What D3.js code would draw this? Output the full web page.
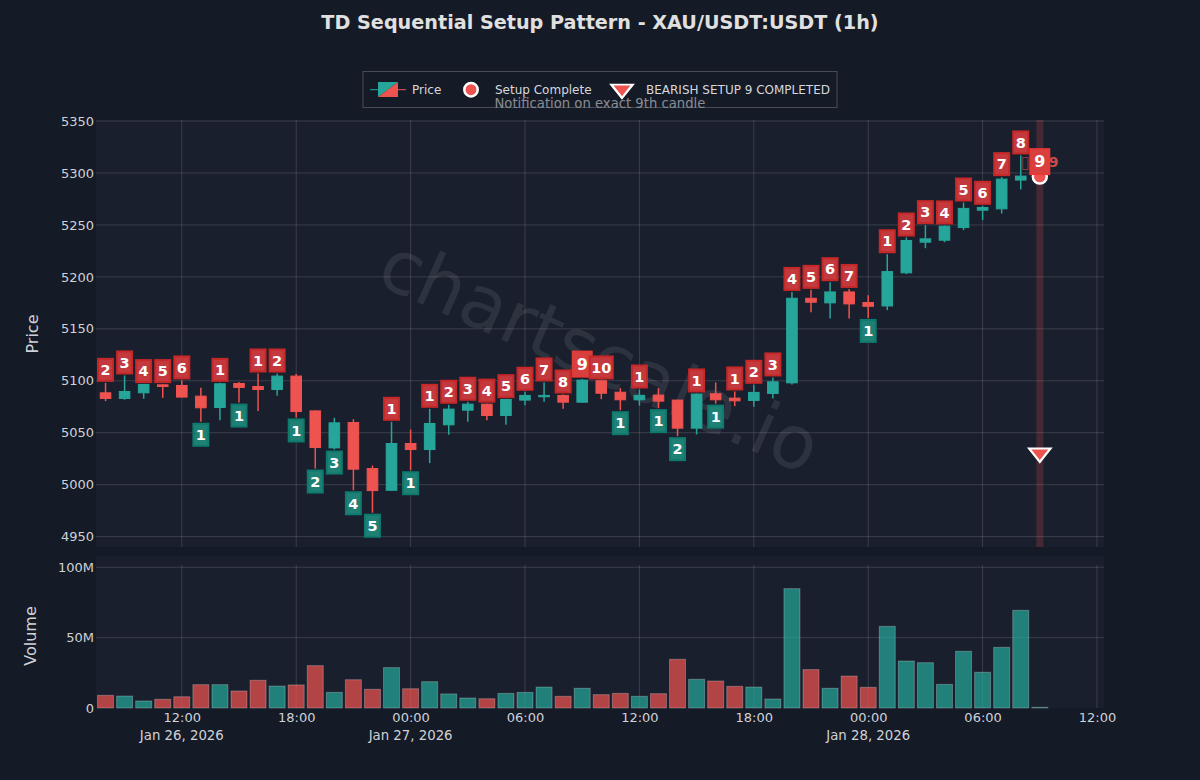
<!DOCTYPE html>
<html>
<head>
<meta charset="utf-8">
<title>TD Sequential Setup Pattern</title>
<script src="https://cdn.jsdelivr.net/npm/d3@7/dist/d3.min.js"></script>
<style>
  html, body { margin: 0; padding: 0; background: #151a27; }
  svg { display: block; font-family: "DejaVu Sans", sans-serif; }
</style>
</head>
<body>
<div id="chart"></div>
<script>
var opens = [5088.4, 5083, 5088.4, 5096.1, 5095.5, 5085.2, 5074.3, 5097.4, 5094.5, 5091.6,
  5104.5, 5071, 5035.4, 5059.8, 5015.5, 4994.6, 5039.6, 5033.8, 5057.6, 5071.7,
  5077.5, 5066.6, 5081.4, 5084.6, 5085.9, 5079.4, 5100, 5089, 5081.7, 5086.2,
  5081.4, 5054.4, 5087.5, 5083.3, 5081.1, 5087.8, 5098, 5179.4, 5175, 5185.5,
  5175.3, 5172, 5203.9, 5233.4, 5235.3, 5247.5, 5264.2, 5265.5, 5293.2, 5295.8];
var highs = [5098, 5105.1, 5096.8, 5096.8, 5100.3, 5093.3, 5098, 5098.7, 5107, 5107,
  5106.4, 5071.5, 5064.3, 5063, 5018.4, 5060.5, 5053, 5073, 5076.9, 5079.8,
  5078, 5082.3, 5089.4, 5098.4, 5086.8, 5101.6, 5100.3, 5093, 5091.6, 5093,
  5081.6, 5087.8, 5098.4, 5089.7, 5096.1, 5103.2, 5185.5, 5187.5, 5194.9, 5188.4,
  5182.3, 5221.8, 5237.9, 5249.8, 5249.5, 5271.6, 5268.4, 5296, 5316.9, 5296.5];
var lows = [5080.4, 5081.7, 5082.7, 5083.6, 5084, 5060.5, 5062, 5079, 5071, 5085.5,
  5064.7, 5015.5, 5033.8, 4994.6, 4973, 4994.4, 5013.9, 5020.7, 5048, 5060.5,
  5062, 5057.6, 5076.5, 5079.8, 5073, 5079.2, 5082.3, 5071.7, 5076, 5073.7,
  5046.7, 5048.3, 5078, 5075.6, 5075, 5083, 5096.5, 5166, 5160, 5160,
  5160.5, 5168, 5202.6, 5227.6, 5233.4, 5245, 5254.6, 5261, 5284.2, 5295.5];
var closes = [5083, 5089.7, 5096.5, 5094.5, 5084.3, 5074, 5097.1, 5093.6, 5091.6, 5104.5,
  5070.4, 5035.8, 5059.5, 5014.9, 4994.3, 5039.6, 5033.8, 5058.9, 5072.7, 5077.5,
  5066.6, 5082, 5085.9, 5085.9, 5079.4, 5100.6, 5088, 5081.7, 5086, 5080.4,
  5054.4, 5087.2, 5081.7, 5080.7, 5088.8, 5099, 5179.4, 5175.6, 5185.5, 5174,
  5171.7, 5205.1, 5235, 5236.6, 5248.8, 5265.9, 5266.8, 5294.1, 5297, 5296.2];
var volumes = [9, 8.5, 5, 6.2, 8, 16.6, 16.6, 12.1, 19.7, 15.6,
  16.4, 30.1, 11.1, 20.1, 13.3, 28.7, 13.7, 18.7, 10, 7.1,
  6.6, 10.4, 11.1, 14.9, 8.3, 14, 9.5, 10.4, 8.3, 10.2,
  34.6, 20.4, 19.2, 15.4, 14.9, 6.4, 84.8, 27.3, 14, 22.7,
  14.7, 58, 33.4, 32.2, 16.8, 40.3, 25.4, 43.1, 69.4, 0.5];

// Setup count printed on each candle, and whether it sits above (a) or below (b) it.
var setupCounts = [2, 3, 4, 5, 6, 1, 1, 1, 1, 2, 1, 2, 3, 4, 5, 1, 1, 1, 2, 3, 4, 5, 6, 7, 8,
  9, 10, 1, 1, 1, 2, 1, 1, 1, 2, 3, 4, 5, 6, 7, 1, 1, 2, 3, 4, 5, 6, 7, 8, 9];
var setupSides = [
  'a', 'a', 'a', 'a', 'a', 'b', 'a', 'b', 'a', 'a',
  'b', 'b', 'b', 'b', 'b', 'a', 'b', 'a', 'a', 'a',
  'a', 'a', 'a', 'a', 'a', 'a', 'a', 'b', 'a', 'b',
  'b', 'a', 'b', 'a', 'a', 'a', 'a', 'a', 'a', 'a',
  'b', 'a', 'a', 'a', 'a', 'a', 'a', 'a', 'a', 'a'];

var priceTicks = [4950, 5000, 5050, 5100, 5150, 5200, 5250, 5300, 5350];
var volumeTicks = [0, 50, 100];
var dateTicks = [new Date(Date.UTC(2026, 0, 26, 12)), new Date(Date.UTC(2026, 0, 27)), new Date(Date.UTC(2026, 0, 28))];
var signalPrice = 5030.5;
var signalCandle = 49;

var width = 1200, height = 780;
var green = '#26a69a', red = '#ef5350';
var paper = '#151a27', plot = '#1a1f2d';
var left = 96, right = 1104;
var priceTop = 120, priceBottom = 547;
var volumeTop = 556, volumeBottom = 708, gridTop = 565;

var times = d3.utcHour.range(new Date(Date.UTC(2026, 0, 26, 8)), new Date(Date.UTC(2026, 0, 28, 10)));

var x = d3.scaleUtc()
  .domain([new Date(Date.UTC(2026, 0, 26, 7, 30)), new Date(Date.UTC(2026, 0, 28, 12, 22))])
  .range([left, right]);
var y = d3.scaleLinear().domain([4940, 5351]).range([priceBottom, priceTop]);
var yVol = d3.scaleLinear().domain([0, 108]).range([volumeBottom, volumeTop]);

var candles = times.map(function (t, i) {
  return {
    i: i, time: t, open: opens[i], high: highs[i], low: lows[i], close: closes[i],
    volume: volumes[i], count: setupCounts[i], side: setupSides[i],
    up: closes[i] >= opens[i]
  };
});

var svg = d3.select('#chart').append('svg').attr('width', width).attr('height', height);

svg.append('rect').attr('width', width).attr('height', height).attr('fill', paper);
svg.append('rect').attr('x', left).attr('y', priceTop).attr('width', right - left)
  .attr('height', priceBottom - priceTop).attr('fill', plot);
svg.append('rect').attr('x', left).attr('y', volumeTop).attr('width', right - left)
  .attr('height', volumeBottom - volumeTop).attr('fill', plot);

// Grid
var gridColor = 'rgba(255,255,255,0.14)';
var xGridTicks = d3.utcHour.every(6).range(x.domain()[0], x.domain()[1]);

svg.append('g').selectAll('line').data(priceTicks).enter().append('line')
  .attr('x1', left).attr('x2', right)
  .attr('y1', function (d) { return y(d); }).attr('y2', function (d) { return y(d); })
  .attr('stroke', gridColor);
svg.append('g').selectAll('line').data(volumeTicks.slice(1)).enter().append('line')
  .attr('x1', left).attr('x2', right)
  .attr('y1', function (d) { return yVol(d); }).attr('y2', function (d) { return yVol(d); })
  .attr('stroke', gridColor);
svg.append('g').selectAll('line').data(xGridTicks).enter().append('line')
  .attr('x1', function (d) { return x(d); }).attr('x2', function (d) { return x(d); })
  .attr('y1', priceTop).attr('y2', priceBottom).attr('stroke', gridColor);
svg.append('g').selectAll('line').data(xGridTicks).enter().append('line')
  .attr('x1', function (d) { return x(d); }).attr('x2', function (d) { return x(d); })
  .attr('y1', gridTop).attr('y2', volumeBottom).attr('stroke', gridColor);

// Watermark
svg.append('text')
  .attr('transform', 'translate(598,360) rotate(24)')
  .attr('text-anchor', 'middle').attr('dominant-baseline', 'middle')
  .attr('font-size', 74).attr('fill', 'rgba(255,255,255,0.085)')
  .text('chartscale.io');

// Highlight on the completed setup candle
svg.append('rect')
  .attr('x', x(times[signalCandle]) - 3.5).attr('y', priceTop)
  .attr('width', 7).attr('height', priceBottom - priceTop)
  .attr('fill', 'rgba(239,83,80,0.2)');

// Axes
function styleAxis(g) {
  g.select('.domain').remove();
  g.selectAll('line').remove();
  g.selectAll('text').attr('fill', '#cfd2d8').attr('font-size', 13)
    .attr('font-family', '"DejaVu Sans", sans-serif');
}
svg.append('g').attr('transform', 'translate(' + (left + 1) + ',0)')
  .call(d3.axisLeft(y).tickValues(priceTicks).tickFormat(d3.format('d')).tickPadding(3).tickSize(0))
  .call(styleAxis);
svg.append('g').attr('transform', 'translate(' + (left + 1) + ',0)')
  .call(d3.axisLeft(yVol).tickValues(volumeTicks)
    .tickFormat(function (d) { return d === 0 ? '0' : d + 'M'; }).tickPadding(3).tickSize(0))
  .call(styleAxis);
svg.append('g').attr('transform', 'translate(0,' + volumeBottom + ')')
  .call(d3.axisBottom(x).tickValues(xGridTicks).tickFormat(d3.utcFormat('%H:%M')).tickPadding(5).tickSize(0))
  .call(styleAxis);

svg.append('g').selectAll('text').data(dateTicks).enter().append('text')
  .attr('x', function (d) { return x(d); })
  .attr('y', 740).attr('text-anchor', 'middle')
  .attr('font-size', 13.3).attr('fill', '#cfd2d8')
  .text(d3.utcFormat('%b %-d, %Y'));

svg.append('text').attr('transform', 'translate(38,334) rotate(-90)')
  .attr('text-anchor', 'middle').attr('font-size', 16).attr('fill', '#cfd2d8').text('Price');
svg.append('text').attr('transform', 'translate(36,636) rotate(-90)')
  .attr('text-anchor', 'middle').attr('font-size', 16).attr('fill', '#cfd2d8').text('Volume');

// Volume bars
svg.append('g').selectAll('rect').data(candles).enter().append('rect')
  .attr('x', function (d) { return x(d.time) - 8; })
  .attr('width', 16)
  .attr('y', function (d) { return yVol(d.volume); })
  .attr('height', function (d) { return yVol(0) - yVol(d.volume); })
  .attr('fill', function (d) { return d.up ? green : red; })
  .attr('fill-opacity', 0.72)
  .attr('stroke', 'rgba(255,255,255,0.25)');

// Candles
var candle = svg.append('g').selectAll('g').data(candles).enter().append('g');
candle.append('line')
  .attr('x1', function (d) { return x(d.time); }).attr('x2', function (d) { return x(d.time); })
  .attr('y1', function (d) { return y(d.high); }).attr('y2', function (d) { return y(d.low); })
  .attr('stroke', function (d) { return d.up ? green : red; }).attr('stroke-width', 1.5);
candle.append('rect')
  .attr('x', function (d) { return x(d.time) - 5.3; }).attr('width', 10.6)
  .attr('y', function (d) { return y(Math.max(d.open, d.close)); })
  .attr('height', function (d) { return Math.abs(y(d.open) - y(d.close)); })
  .attr('fill', function (d) { return d.up ? green : red; })
  .attr('stroke', function (d) { return d.up ? green : red; }).attr('stroke-width', 1);

// Setup complete marker and its unresolved glyph text
var signal = candles[signalCandle];
svg.append('circle')
  .attr('cx', x(signal.time)).attr('cy', y(signal.high)).attr('r', 7)
  .attr('fill', red).attr('stroke', '#fff').attr('stroke-width', 2.5);
svg.append('text')
  .attr('x', x(signal.time) - 15).attr('y', y(5311)).attr('dy', '0.36em')
  .attr('font-size', 17).attr('fill', 'rgba(239,83,80,0.5)').attr('text-anchor', 'middle').text('\u25AF');
svg.append('text')
  .attr('x', x(signal.time) + 9).attr('y', y(5311)).attr('dy', '0.36em')
  .attr('font-size', 14).attr('font-weight', 'bold').attr('fill', 'rgba(239,83,80,0.85)').text('9');

// Setup count labels
var label = svg.append('g').selectAll('g').data(candles).enter().append('g')
  .attr('transform', function (d) {
    var off = d.count === 9 ? 14 : 12;
    var py = d.side === 'a' ? y(d.high) - off - 1 : y(d.low) + off + 1;
    return 'translate(' + x(d.time) + ',' + py + ')';
  });
label.append('rect')
  .attr('x', function (d) { return -boxW(d) / 2 + 1; })
  .attr('y', function (d) { return -boxH(d) / 2 + 1; })
  .attr('width', function (d) { return boxW(d) - 2; })
  .attr('height', function (d) { return boxH(d) - 2; })
  .attr('fill', function (d) {
    if (d.count === 9) return '#d8403f';
    return d.side === 'a' ? '#c4393e' : '#1f8176';
  })
  .attr('stroke', function (d) {
    if (d.count === 9) return '#e53935';
    return d.side === 'a' ? '#c62828' : '#0e7a6d';
  })
  .attr('stroke-width', 2);
label.append('text')
  .attr('text-anchor', 'middle').attr('dy', '0.36em')
  .attr('font-size', function (d) { return d.count === 9 ? 16 : 14.5; })
  .attr('font-weight', 'bold').attr('fill', '#fff')
  .text(function (d) { return d.count; });

function boxW(d) { return d.count === 9 ? 21 : d.count === 10 ? 25 : 17; }
function boxH(d) { return d.count === 9 ? 27 : 24; }

// Bearish triangle
var triangle = d3.symbol().type(d3.symbolTriangle).size(200);
svg.append('path')
  .attr('d', triangle)
  .attr('transform', 'translate(' + x(signal.time) + ',' + y(signalPrice) + ') rotate(180) scale(1,0.72)')
  .attr('fill', red).attr('stroke', '#fff').attr('stroke-width', 2.5);

// Title
svg.append('text').attr('x', 600).attr('y', 29).attr('text-anchor', 'middle')
  .attr('font-size', 19.2).attr('font-weight', 'bold').attr('fill', '#e0e0e0')
  .text('TD Sequential Setup Pattern - XAU/USDT:USDT (1h)');

// Legend
var legend = svg.append('g');
legend.append('rect').attr('x', 363).attr('y', 71.5).attr('width', 474).attr('height', 36)
  .attr('fill', paper).attr('stroke', 'rgba(255,255,255,0.22)');
legend.append('line').attr('x1', 370).attr('x2', 388).attr('y1', 89.7).attr('y2', 89.7).attr('stroke', green);
legend.append('line').attr('x1', 388).attr('x2', 406).attr('y1', 89.7).attr('y2', 89.7).attr('stroke', red);
legend.append('path').attr('d', 'M378,82H398L378,97Z').attr('fill', green);
legend.append('path').attr('d', 'M398,82V97H378Z').attr('fill', red);
legend.append('circle').attr('cx', 471).attr('cy', 89.7).attr('r', 6.7)
  .attr('fill', red).attr('stroke', '#fff').attr('stroke-width', 2.5);
legend.append('path').attr('d', triangle)
  .attr('transform', 'translate(622,89) rotate(180) scale(1,0.72)')
  .attr('fill', red).attr('stroke', '#fff').attr('stroke-width', 2.5);
[['Price', 412], ['Setup Complete', 495], ['BEARISH SETUP 9 COMPLETED', 646]].forEach(function (d) {
  legend.append('text').attr('x', d[1]).attr('y', 94.2)
    .attr('font-size', 12).attr('fill', '#d6d8dc').text(d[0]);
});
legend.append('text').attr('x', 494.5).attr('y', 108)
  .attr('font-size', 13.2).attr('fill', '#8a8d93').text('Notification on exact 9th candle');
</script>
</body>
</html>
